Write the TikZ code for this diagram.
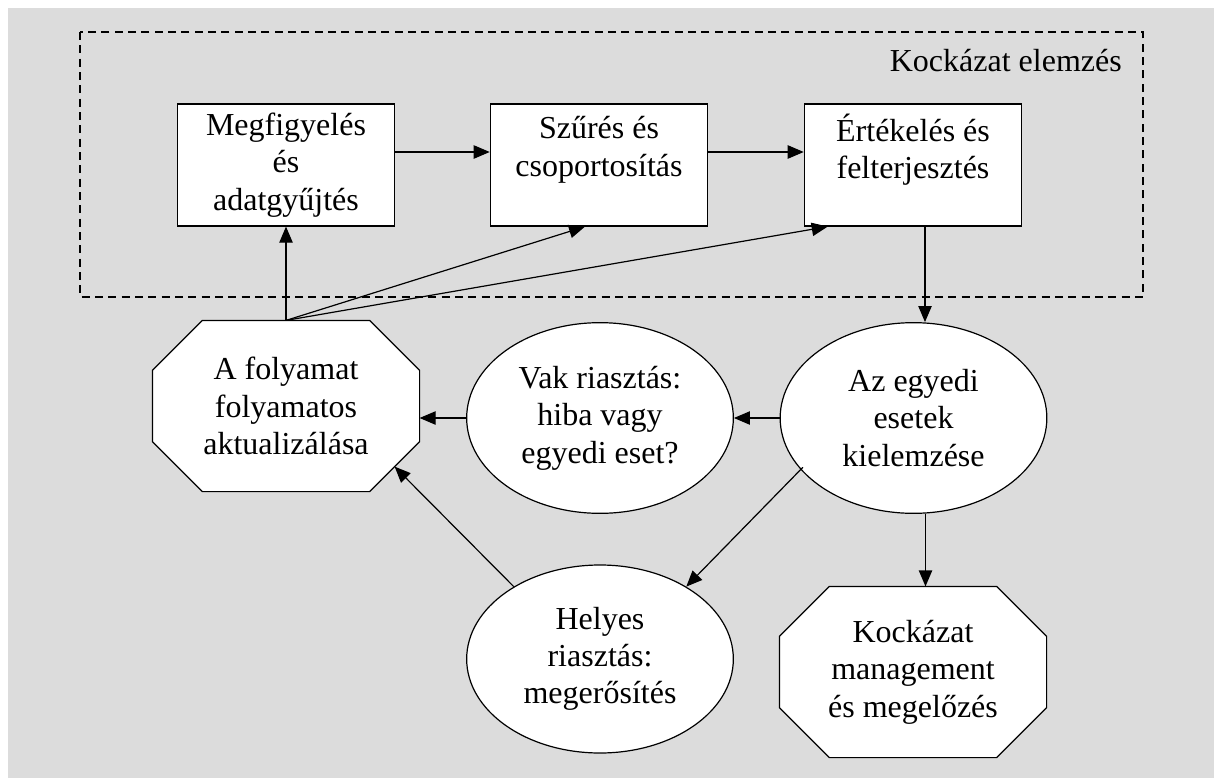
\documentclass[tikz,border=0pt]{standalone}
\usepackage{fontspec}
\setmainfont{Liberation Serif}
\usetikzlibrary{arrows.meta,shapes.geometric,backgrounds}
\definecolor{bggray}{HTML}{DCDCDC}

\begin{document}
\begin{tikzpicture}[x=0.75pt, y=-0.75pt, line width=0.9pt,
        every node/.style={font=\fontsize{24pt}{28pt}\selectfont, align=center, inner sep=2pt},
        box/.style={shape=rectangle, draw=black, fill=white, minimum width=163pt, minimum height=91.5pt},
        oval/.style={shape=ellipse, draw=black, fill=white, minimum width=200pt, minimum height=143pt},
        octa/.style={shape=rectangle, minimum width=199.5pt, minimum height=127.5pt},
        octline/.style={draw=black, fill=white, line width=0.9pt},
        arr/.style={-{Triangle[length=12pt,width=10pt]}}]
        \useasboundingbox (0,0) rectangle (1214,778);
        \begin{scope}[on background layer]
            \fill[bggray] (8,8) rectangle (1214,778);
        \end{scope}
        \draw[dash pattern=on 6pt off 4pt] (80,32) rectangle (1143,297);
        \node[anchor=base east] (title) at (1125,71) {Kockázat elemzés};

        \node[box] (1) at (286,165) {Megfigyelés\\és\\adatgyűjtés};
        \node[box] (2) at (599,165) {Szűrés és\\csoportosítás\\~};
        \node[box] (3) at (913,165) {Értékelés és\\felterjesztés\\~};
        \node[octa] (4) at (286,406) {A folyamat\\folyamatos\\aktualizálása};
        \node[oval] (5) at (600,418) {Vak riasztás:\\hiba vagy\\egyedi eset?};
        \node[oval] (6) at (913.5,418) {Az egyedi\\esetek\\kielemzése};
        \node[oval, minimum height=141pt] (7) at (600,659) {Helyes\\riasztás:\\megerősítés};
        \node[octa] (8) at (913,672) {Kockázat\\management\\és megelőzés};

        % the two octagons, behind their text
        \begin{scope}[on background layer]
            \foreach \o in {4,8}
                \draw[octline] ([xshift=37.5pt]\o.north west) -- ([xshift=-37.5pt]\o.north east)
                    -- ([yshift=-37.5pt]\o.north east) -- ([yshift=37.5pt]\o.south east)
                    -- ([xshift=-37.5pt]\o.south east) -- ([xshift=37.5pt]\o.south west)
                    -- ([yshift=37.5pt]\o.south west) -- ([yshift=-37.5pt]\o.north west) -- cycle;
        \end{scope}

        \draw[arr] ([yshift=9.75pt]1.east) -- ([yshift=9.75pt]2.west);
        \draw[arr] ([yshift=9.75pt]2.east) -- ([yshift=9.75pt]3.west);

        \draw[arr] (4.north) -- (1.south);
        \draw[arr] (4.north) -- ([xshift=-10.5pt]2.south);
        \draw[arr] (4.north) -- ([xshift=18pt]3.south west);

        \draw[arr] ([xshift=9pt]3.south) -- ([xshift=9pt]3.south |- 6.north);
        \draw[arr] (6) -- (5);
        \draw[arr] (5.west) -- (5.west -| 4.east);
        \draw[arr] ([xshift=9pt]6.south) -- ([xshift=9pt]6.south |- 8.north);
        \draw[arr] ([shift={(-83pt,-37pt)}]6.center) -- (7.40);
        \draw[arr] (7.140) -- ([shift={(-18.75pt,18.75pt)}]4.south east);
    \end{tikzpicture}
\end{document}
